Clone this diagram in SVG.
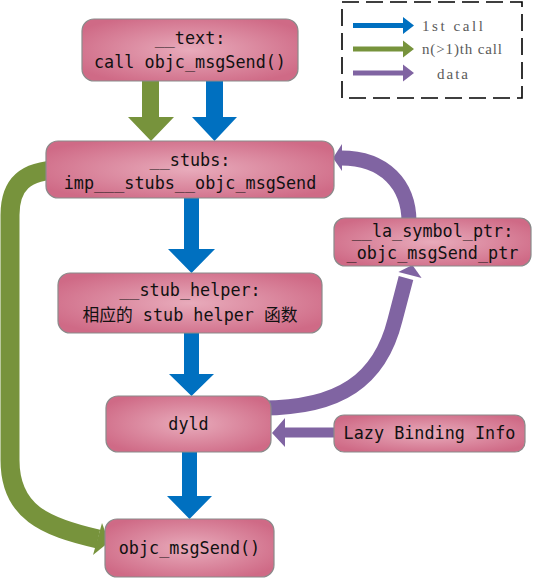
<svg xmlns="http://www.w3.org/2000/svg" width="533" height="578" viewBox="0 0 533 578">
<defs>
<radialGradient id="pink" cx="50%" cy="50%" r="60%">
<stop offset="0" stop-color="#e8abbb"/>
<stop offset="1" stop-color="#cf6a86"/>
</radialGradient>
<style>
.box{fill:url(#pink);stroke:#8a8a8a;stroke-width:1.2}
.t{font-family:"DejaVu Sans Mono","Noto Sans CJK SC",monospace;font-size:16.8px;fill:#111;text-anchor:middle}
.lg{font-family:"Liberation Serif","DejaVu Serif",serif;font-size:15px;fill:#5a5a5a}
.blue{fill:#0070c0}
.green{fill:#77933c}
.purple{fill:#8064a2}
.gs{fill:none;stroke:#77933c;stroke-width:19}
.ps{fill:none;stroke:#8064a2;stroke-width:15}
</style>
</defs>
<rect width="533" height="578" fill="#fff"/>

<g id="legend">
<rect x="342" y="2" width="180" height="96" fill="none" stroke="#000" stroke-width="1.6" stroke-dasharray="17,7"/>
<polygon class="blue" points="353,23 403,23 403,17 414,25.5 403,34 403,28 353,28"/>
<polygon class="green" points="353,46.5 403,46.5 403,40.5 414,49 403,57.5 403,51.5 353,51.5"/>
<polygon class="purple" points="353,70.5 403,70.5 403,64.5 414,73 403,81.5 403,75.5 353,75.5"/>
<text class="lg" x="422" y="31" textLength="61" lengthAdjust="spacing">1st call</text>
<text class="lg" x="422" y="54" textLength="80" lengthAdjust="spacing">n(&gt;1)th call</text>
<text class="lg" x="437" y="79" textLength="31" lengthAdjust="spacing">data</text>
</g>

<g id="connectors">
<polygon class="green" points="142,81 159,81 159,117 174,117 151,141 128,117 142,117"/>
<polygon class="blue" points="206,81 223,81 223,117 237,117 214.5,141 192,117 206,117"/>
<polygon class="blue" points="184,198 199,198 199,249 215,249 191.5,273 168,249 184,249"/>
<polygon class="blue" points="184,333 199,333 199,374 214,374 191.5,396 169,374 184,374"/>
<polygon class="blue" points="182,452 197,452 197,496 212,496 189.5,519 167,496 182,496"/>
<path class="gs" d="M60,170 C25,170 10,185 10,215 L10,460 C10,512 45,527 98,539"/>
<polygon class="green" points="102,523 93,555 109,542"/>
<path class="ps" d="M409,222 C409,185 385,158 341,158"/>
<polygon class="purple" points="342,144 342,171 333,158"/>
<path class="ps" d="M262,408 C340,408 380,380 395,320 L406,278"/>
<polygon class="purple" points="398.4,272 421.6,278 412.4,265"/>
<polygon class="purple" points="334,427.5 285,427.5 285,418 272,433 285,447 285,437.5 334,437.5"/>
</g>

<g id="n-text">
<rect class="box" x="82" y="19" width="216" height="62" rx="12"/>
<text class="t" x="190" y="44">__text:</text>
<text class="t" x="190" y="68">call objc_msgSend()</text>
</g>
<g id="n-stubs">
<rect class="box" x="46" y="141" width="288" height="57" rx="12"/>
<text class="t" x="190" y="166">__stubs:</text>
<text class="t" x="190" y="189">imp___stubs__objc_msgSend</text>
</g>
<g id="n-stub-helper">
<rect class="box" x="58" y="273" width="264" height="60" rx="12"/>
<text class="t" x="190" y="296">__stub_helper:</text>
<text class="t" x="190" y="321">相应的 stub helper 函数</text>
</g>
<g id="n-la-symbol-ptr">
<rect class="box" x="334" y="218" width="197" height="48" rx="11"/>
<text class="t" x="432.5" y="237">__la_symbol_ptr:</text>
<text class="t" x="432.5" y="259">_objc_msgSend_ptr</text>
</g>
<g id="n-dyld">
<rect class="box" x="106" y="396" width="165" height="56" rx="12"/>
<text class="t" x="188.5" y="430">dyld</text>
</g>
<g id="n-lazy">
<rect class="box" x="334" y="415" width="191" height="37" rx="10"/>
<text class="t" x="429.5" y="439">Lazy Binding Info</text>
</g>
<g id="n-objc">
<rect class="box" x="105" y="519" width="169" height="58" rx="12"/>
<text class="t" x="189.5" y="554">objc_msgSend()</text>
</g>
</svg>
